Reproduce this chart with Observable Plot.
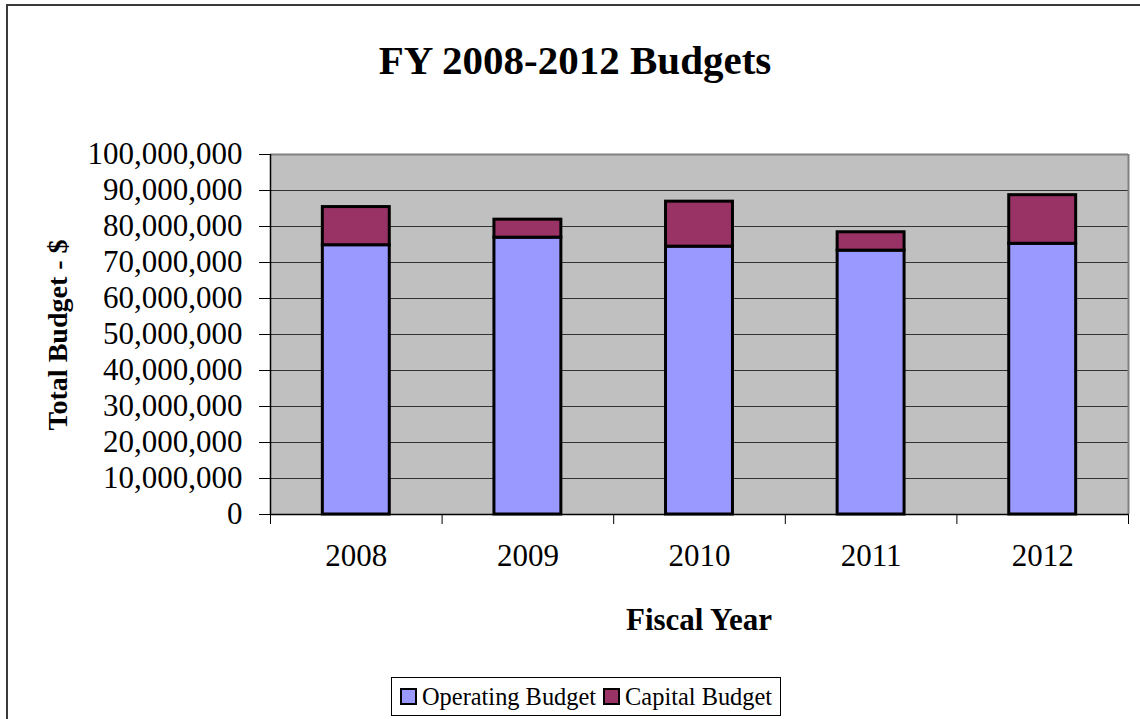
<!DOCTYPE html>
<html>
<head>
<meta charset="utf-8">
<script src="https://cdn.jsdelivr.net/npm/d3@7"></script>
<script src="https://cdn.jsdelivr.net/npm/@observablehq/plot@0.6"></script>
<style>
  html, body { margin: 0; padding: 0; background: #fff; overflow: hidden; }
  #wrap { position: relative; width: 1140px; height: 719px; font-family: "Liberation Serif", "Times New Roman", serif; color: #000; }
  #frame { position: absolute; left: 6px; top: 4px; width: 1200px; height: 800px; border: 2px solid #3a3a3a; box-sizing: border-box; }
  #title { position: absolute; top: 40px; left: 0; width: 1150px; text-align: center; font-weight: bold; font-size: 41px; line-height: 41px; }
  #chart { position: absolute; top: 110px; left: 0; }
  #ytitle { position: absolute; left: -92px; top: 321px; width: 300px; height: 28px; line-height: 28px; text-align: center; font-weight: bold; font-size: 28px; transform: rotate(-90deg); white-space: nowrap; }
  #xtitle { position: absolute; left: 499px; top: 604px; width: 400px; text-align: center; font-weight: bold; font-size: 31px; line-height: 31px; }
  #legend { position: absolute; left: 391px; top: 677px; height: 39px; box-sizing: border-box; border: 1px solid #000; padding: 0 8px; display: flex; align-items: center; font-size: 24.4px; background: #fff; }
  .item { display: flex; align-items: center; margin-right: 7px; }
  .item:last-child { margin-right: 0; }
  .sw { width: 13px; height: 13px; border: 2px solid #000; margin-right: 5px; }
  .lbl { line-height: 24px; white-space: nowrap; }
</style>
</head>
<body>
<div id="wrap">
  <div id="frame"></div>
  <div id="title">FY 2008-2012 Budgets</div>
  <div id="chart"></div>
  <div id="ytitle">Total Budget - $</div>
  <div id="xtitle">Fiscal Year</div>
  <div id="legend"></div>
</div>
<script>
// ---- Data ----
const years = [2008, 2009, 2010, 2011, 2012];
const operating = [74800000, 76900000, 74400000, 73300000, 75200000];
const capital = [10600000, 5000000, 12500000, 5100000, 13500000];
const seriesNames = ["Operating Budget", "Capital Budget"];
const seriesColors = ["#9999FF", "#993366"];
const yTicks = [0, 10000000, 20000000, 30000000, 40000000, 50000000, 60000000, 70000000, 80000000, 90000000, 100000000];

// Table built from the arrays
const rows = years.flatMap((yr, i) => [
  {year: yr, series: seriesNames[0], y1: 0, y2: operating[i]},
  {year: yr, series: seriesNames[1], y1: operating[i], y2: operating[i] + capital[i]}
]);
const half = 0.5;
const boundaries = [years[0] - half, ...years.map(y => y + half)];
const barHalf = 0.195;

const chart = Plot.plot({
  width: 1140,
  height: 555,
  marginTop: 44,
  marginBottom: 151,
  marginLeft: 270,
  marginRight: 12,
  style: {fontFamily: "'Liberation Serif', 'Times New Roman', serif", background: "transparent", color: "#000"},
  x: {type: "linear", domain: [boundaries[0], boundaries[boundaries.length - 1]]},
  y: {domain: [yTicks[0], yTicks[yTicks.length - 1]]},
  color: {domain: seriesNames, range: seriesColors},
  marks: [
    Plot.frame({fill: "#c0c0c0", stroke: "none"}),
    Plot.gridY(yTicks, {stroke: "#333", strokeOpacity: 1, strokeWidth: 1}),
    Plot.rect(rows, {x1: d => d.year - barHalf, x2: d => d.year + barHalf, y1: "y1", y2: "y2", fill: "series", stroke: "#000", strokeWidth: 3}),
    Plot.ruleY([yTicks[yTicks.length - 1]], {stroke: "#808080", strokeWidth: 2}),
    Plot.ruleX([boundaries[boundaries.length - 1]], {stroke: "#808080", strokeWidth: 2}),
    Plot.ruleX([boundaries[0]], {stroke: "#000", strokeWidth: 1.5}),
    Plot.ruleY([0], {stroke: "#000", strokeWidth: 1.5}),
    Plot.axisY({ticks: yTicks, tickFormat: d3.format(","), tickSize: 11, tickPadding: 17, fontSize: 31, label: null}),
    Plot.axisX({ticks: years, tickFormat: d => String(d), tickSize: 0, tickPadding: 29, fontSize: 31, label: null}),
    Plot.axisX({ticks: boundaries, tickFormat: () => "", tickSize: 10, label: null})
  ]
});
document.getElementById("chart").appendChild(chart);

// Legend
const legend = document.getElementById("legend");
seriesNames.forEach((name, i) => {
  const item = document.createElement("div");
  item.className = "item";
  const sw = document.createElement("div");
  sw.className = "sw";
  sw.style.background = seriesColors[i];
  const lbl = document.createElement("span");
  lbl.className = "lbl";
  lbl.textContent = name;
  item.appendChild(sw);
  item.appendChild(lbl);
  legend.appendChild(item);
});
</script>
</body>
</html>
